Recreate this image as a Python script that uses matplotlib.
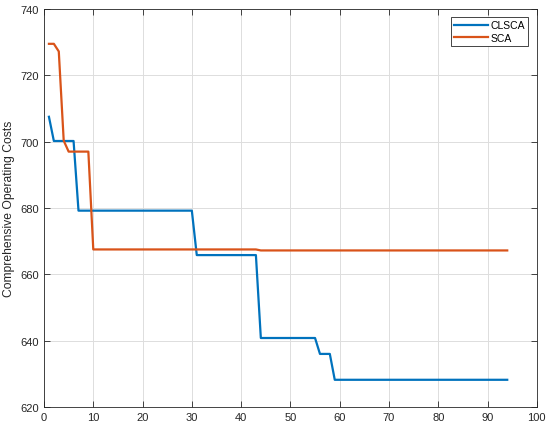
import matplotlib
matplotlib.use("Agg")
import matplotlib.pyplot as plt

# iteration / cost values
clsca_x = [1, 2, 6, 7, 30, 31, 43, 44, 55, 56, 58, 59, 94]
clsca_y = [707.5, 700.2, 700.2, 679.2, 679.2, 665.8, 665.8, 640.8, 640.8, 636.0, 636.0, 628.2, 628.2]

sca_x = [1, 2, 3, 4, 5, 9, 10, 43, 44, 94]
sca_y = [729.5, 729.5, 727.2, 700.3, 697.0, 697.0, 667.5, 667.5, 667.2, 667.2]

x_ticks = list(range(0, 101, 10))
y_ticks = list(range(620, 741, 20))

plt.rcParams['font.family'] = ['Liberation Sans', 'DejaVu Sans']

fig = plt.figure(figsize=(5.5, 4.31), dpi=100)
ax = fig.add_axes([0.08, 0.0534, 0.896, 0.9234])

ax.plot(clsca_x, clsca_y, color='#0072BD', lw=1.6, label='CLSCA')
ax.plot(sca_x, sca_y, color='#D95319', lw=1.6, label='SCA')

ax.set_xlim(0, 100)
ax.set_ylim(620, 740)
ax.set_xticks(x_ticks)
ax.set_yticks(y_ticks)
ax.grid(True, color='#dddddd', lw=0.7)
ax.set_axisbelow(True)
ax.tick_params(direction='in', top=True, right=True, labelsize=8, colors='#262626', length=4, width=0.6)
for s in ax.spines.values():
    s.set_color('#262626')
    s.set_linewidth(0.6)

ax.set_ylabel('Comprehensive Operating Costs', fontsize=8.7, color='#262626', labelpad=4)

leg = ax.legend(loc='upper right', fontsize=7.5, fancybox=False, edgecolor='#262626',
                framealpha=1, handlelength=3.2, borderaxespad=0.8, handletextpad=0.3,
                labelspacing=0.2, borderpad=0.3)
leg.get_frame().set_linewidth(0.6)

fig.savefig('out.png', dpi=100)
